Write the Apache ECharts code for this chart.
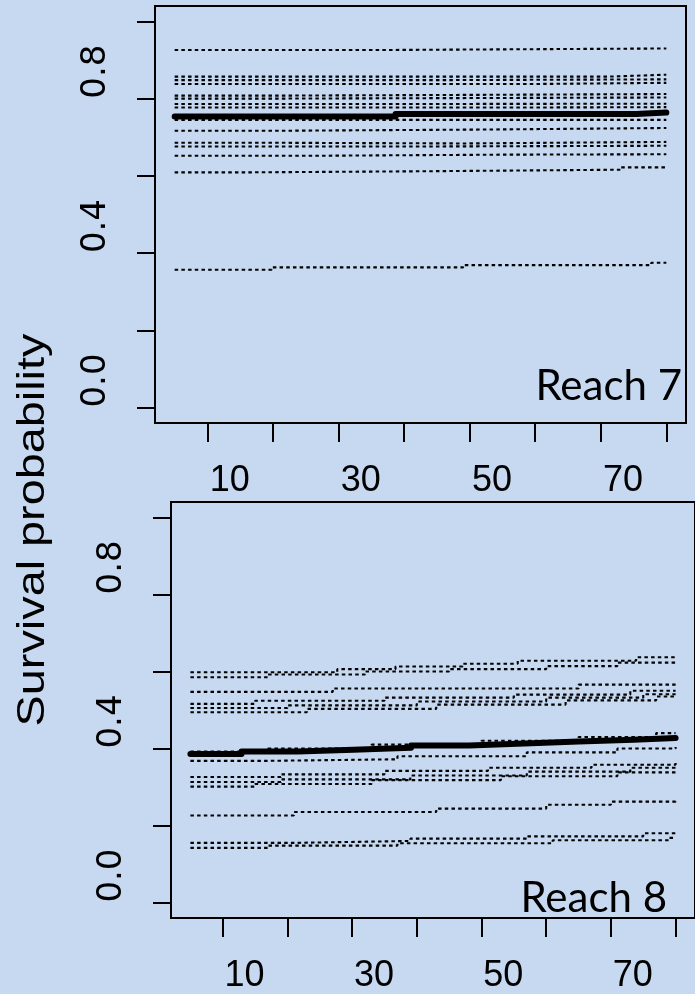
<!DOCTYPE html>
<html>
<head>
<meta charset="utf-8">
<script src="https://cdn.jsdelivr.net/npm/echarts@6/dist/echarts.min.js"></script>
<style>
html,body{margin:0;padding:0;background:#C6D9F1;}
#chart{width:695px;height:994px;}
</style>
</head>
<body>
<div id="chart"></div>
<script>
// ---- data (x = time step, y = survival probability); each line is a step function given by its change points ----
const xTickValues = [5, 15, 25, 35, 45, 55, 65, 75];
const xLabelValues = [10, 30, 50, 70];
const yTickValues = [0, 0.2, 0.4, 0.6, 0.8, 1.0];
const yLabelValues = [0, 0.4, 0.8];
const panelNames = ['Reach 7', 'Reach 8'];
const yTitle = 'Survival probability';

const reach7Mean = [[0, 0.754], [33.7, 0.760], [70.4, 0.764], [75, 0.764]];
const reach7Sims = [
  [[0, 0.926], [31.5, 0.930], [75, 0.930]],
  [[0, 0.857], [66, 0.862], [75, 0.862]],
  [[0, 0.848], [40, 0.850], [75, 0.850]],
  [[0, 0.838], [55, 0.841], [75, 0.841]],
  [[0, 0.808], [18, 0.810], [48, 0.812], [75, 0.812]],
  [[0, 0.800], [12, 0.803], [75, 0.803]],
  [[0, 0.786], [28, 0.787], [75, 0.787]],
  [[0, 0.777], [50, 0.778], [75, 0.778]],
  [[0, 0.745], [75, 0.745]],
  [[0, 0.717], [17, 0.720], [47, 0.724], [75, 0.724]],
  [[0, 0.686], [12, 0.684], [44, 0.688], [75, 0.688]],
  [[0, 0.676], [35, 0.678], [75, 0.678]],
  [[0, 0.652], [20, 0.655], [50, 0.656], [75, 0.656]],
  [[0, 0.609], [10, 0.612], [38, 0.616], [68, 0.622], [75, 0.622]],
  [[0, 0.357], [14.8, 0.363], [44, 0.369], [72.7, 0.375], [75, 0.375]]
];

const reach8Mean = [[0, 0.386], [7.9, 0.392], [16.6, 0.397], [25.2, 0.402], [34.1, 0.408], [43.1, 0.413], [51.6, 0.418], [60, 0.423], [68.5, 0.427], [75, 0.427]];
const reach8Sims = [
  [[0, 0.598], [22.7, 0.606], [31.7, 0.613], [42.1, 0.620], [50.6, 0.628], [68.9, 0.637], [75, 0.637]],
  [[0, 0.585], [12, 0.592], [27, 0.600], [40, 0.606], [55, 0.614], [66, 0.623], [75, 0.623]],
  [[0, 0.547], [22, 0.556], [60, 0.566], [75, 0.566]],
  [[0, 0.516], [10, 0.524], [30, 0.532], [50, 0.540], [68, 0.550], [75, 0.550]],
  [[0, 0.505], [15, 0.512], [35, 0.522], [55, 0.532], [70, 0.541], [75, 0.541]],
  [[0, 0.494], [18, 0.503], [38, 0.514], [58, 0.525], [72, 0.535], [75, 0.535]],
  [[0, 0.392], [12, 0.400], [28, 0.410], [45, 0.420], [60, 0.430], [72, 0.440], [75, 0.440]],
  [[0, 0.368], [12, 0.372], [32, 0.380], [52, 0.390], [66, 0.400], [75, 0.404]],
  [[0, 0.326], [14, 0.333], [30, 0.342], [46, 0.350], [62, 0.358], [75, 0.365]],
  [[0, 0.313], [14, 0.320], [34, 0.330], [52, 0.340], [68, 0.350], [75, 0.352]],
  [[0, 0.301], [10, 0.308], [28, 0.318], [48, 0.328], [66, 0.338], [75, 0.342]],
  [[0, 0.226], [16, 0.235], [38, 0.244], [55, 0.254], [65, 0.262], [75, 0.265]],
  [[0, 0.155], [16, 0.160], [34, 0.166], [52, 0.172], [70, 0.180], [75, 0.181]],
  [[0, 0.142], [12, 0.148], [32, 0.154], [56, 0.162], [74, 0.168], [75, 0.168]]
];

// ---- chart ----
const chart = echarts.init(document.getElementById('chart'), null, {renderer: 'canvas'});
const BLACK = '#000';

function gridDef(left, top) {
  return {left: left, top: top, width: 531, height: 417, show: true,
          borderColor: BLACK, borderWidth: 2, backgroundColor: 'transparent', containLabel: false};
}
function xAxisDef(i) {
  return {
    type: 'value', gridIndex: i, min: -3, max: 78,
    axisLine: {show: true, onZero: false, lineStyle: {color: BLACK, width: 2}},
    axisTick: {show: true, length: 19, customValues: xTickValues, lineStyle: {color: BLACK, width: 2}},
    axisLabel: {show: true, customValues: xLabelValues, margin: 40, fontSize: 36,
                fontFamily: 'Liberation Sans', color: BLACK, padding: [0, 21, 0, 0]},
    splitLine: {show: false}
  };
}
function yAxisDef(i) {
  return {
    type: 'value', gridIndex: i, min: -0.04, max: 1.04,
    axisLine: {show: true, onZero: false, lineStyle: {color: BLACK, width: 2}},
    axisTick: {show: true, length: 18, customValues: yTickValues, lineStyle: {color: BLACK, width: 2}},
    axisLabel: {show: true, customValues: yLabelValues, rotate: 90, margin: 59, fontSize: 34,
                fontFamily: 'DejaVu Sans', color: BLACK, align: 'left', verticalAlign: 'middle',
                formatter: v => v.toFixed(1)},
    splitLine: {show: false}
  };
}
function simSeries(data, i) {
  return {type: 'line', xAxisIndex: i, yAxisIndex: i, data: data, step: 'end', showSymbol: false,
          silent: true, animation: false,
          lineStyle: {color: BLACK, width: 2.1, type: [3.5, 3.2]}};
}
function meanSeries(data, i) {
  return {type: 'line', xAxisIndex: i, yAxisIndex: i, data: data, step: 'end', showSymbol: false,
          silent: true, animation: false, z: 5,
          lineStyle: {color: BLACK, width: 6, cap: 'round', join: 'round'}};
}

const series = [];
reach7Sims.forEach(d => series.push(simSeries(d, 0)));
series.push(meanSeries(reach7Mean, 0));
reach8Sims.forEach(d => series.push(simSeries(d, 1)));
series.push(meanSeries(reach8Mean, 1));

chart.setOption({
  backgroundColor: '#C6D9F1',
  animation: false,
  grid: [gridDef(155, 6), gridDef(171, 502)],
  xAxis: [xAxisDef(0), xAxisDef(1)],
  yAxis: [yAxisDef(0), yAxisDef(1)],
  series: series,
  graphic: [
    {type: 'text', x: 33, y: 530, rotation: Math.PI / 2, scaleX: 1.2,
     style: {text: yTitle, fontSize: 39, fontFamily: 'Liberation Sans', fill: BLACK,
             align: 'center', verticalAlign: 'middle'}},
    {type: 'text', x: 682, y: 386,
     style: {text: panelNames[0], fontSize: 42, fontFamily: 'Lato', fill: BLACK,
             align: 'right', verticalAlign: 'middle'}},
    {type: 'text', x: 667, y: 898,
     style: {text: panelNames[1], fontSize: 42, fontFamily: 'Lato', fill: BLACK,
             align: 'right', verticalAlign: 'middle'}}
  ]
});
</script>
</body>
</html>
